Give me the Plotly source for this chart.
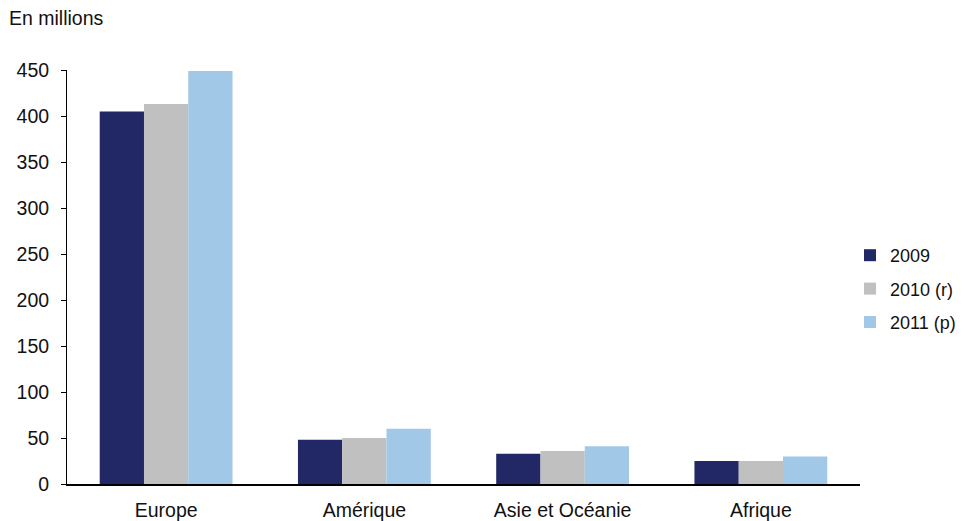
import plotly.graph_objects as go

categories = ["Europe", "Amérique", "Asie et Océanie", "Afrique"]
series_names = ["2009", "2010 (r)", "2011 (p)"]
v2009 = [405, 48, 33, 25]
v2010 = [413, 50, 36, 25]
v2011 = [449, 60, 41, 30]
colors = ["#212865", "#c0c0c0", "#a2c8e7"]
y_ticks = [0, 50, 100, 150, 200, 250, 300, 350, 400, 450]

FONT = "Liberation Sans, Arial, sans-serif"
FS = 19.5

fig = go.Figure()
for name, vals, c in zip(series_names, [v2009, v2010, v2011], colors):
    fig.add_trace(go.Bar(name=name, x=categories, y=vals, legendgroup=name,
                         marker=dict(color=c, line=dict(width=0))))

# page has an 8px body margin; figure placed at (8,8)
fig.update_layout(
    width=952, height=521,
    margin=dict(l=59, r=100, t=62, b=45, autoexpand=False),
    paper_bgcolor="white", plot_bgcolor="white",
    barmode="group", bargap=0.33, bargroupgap=0,
    font=dict(family=FONT, size=FS, color="#111111"),
    legend=dict(x=(842 - 59) / 793, xanchor="left", y=0.471, yanchor="middle",
                font=dict(family=FONT, size=18), traceorder="grouped",
                tracegroupgap=7, itemwidth=30, bgcolor="rgba(0,0,0,0)"),
    annotations=[dict(text="En millions", xref="paper", yref="paper",
                      x=-60/793, y=1 + 52/414, xanchor="left", yanchor="middle",
                      showarrow=False, font=dict(family=FONT, size=FS))],
)
fig.update_xaxes(showline=True, linecolor="black", linewidth=1.5,
                 ticks="", showgrid=False, tickfont=dict(size=FS),
                 ticklabelstandoff=8, automargin=False)
fig.update_yaxes(range=[0, 450], tickvals=y_ticks, showline=True, linecolor="black",
                 linewidth=1, ticks="outside", ticklen=5, tickcolor="black",
                 showgrid=False, zeroline=False, tickfont=dict(size=FS),
                 ticklabelstandoff=8, automargin=False)

fig.write_html("out.html")
